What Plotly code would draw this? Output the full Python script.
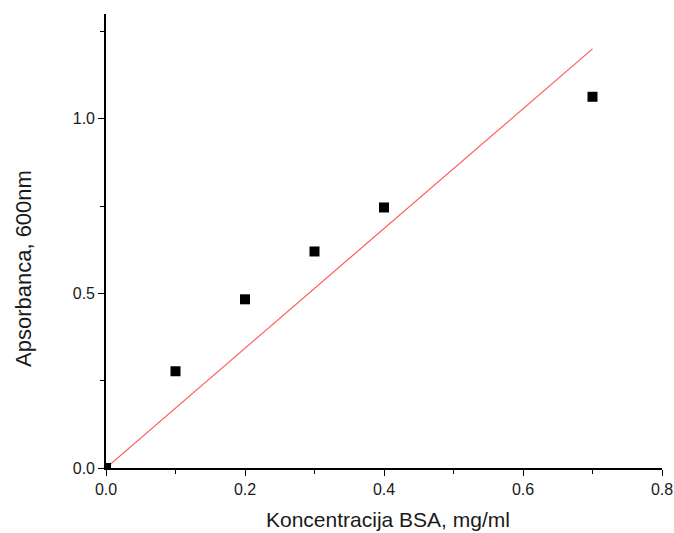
import plotly.graph_objects as go

# Data
conc_bsa = [0.0, 0.1, 0.2, 0.3, 0.4, 0.7]          # mg/ml
absorbance = [0.0, 0.277, 0.483, 0.620, 0.746, 1.063]  # A600
fit_x = [0.0, 0.7]
fit_y = [0.0, 1.2]

x_ticks = [0.0, 0.2, 0.4, 0.6, 0.8]
y_ticks = [0.0, 0.5, 1.0]

x_title = "Koncentracija BSA, mg/ml"
y_title = "Apsorbanca, 600nm"

FONT = "Liberation Sans, Arial, sans-serif"

fig = go.Figure()
fig.add_trace(go.Scatter(
    x=fit_x, y=fit_y, mode="lines",
    line=dict(color="#ff5a5a", width=1.2),
    showlegend=False, hoverinfo="skip",
))
fig.add_trace(go.Scatter(
    x=conc_bsa, y=absorbance, mode="markers",
    marker=dict(symbol="square", size=10, color="black"),
    showlegend=False, cliponaxis=True,
))

axis_common = dict(
    showline=True, linecolor="black", linewidth=1.6,
    ticks="outside", ticklen=6, tickwidth=1.4, tickcolor="black",
    showgrid=False, zeroline=False, automargin=False,
    tickfont=dict(family=FONT, size=16, color="#1a1a1a"),
    tickformat=".1f",
)

fig.update_xaxes(
    range=[0, 0.8], tickvals=x_ticks,
    minor=dict(dtick=0.1, ticks="outside", ticklen=4, tickwidth=1.2, tickcolor="black"),
    **axis_common,
)
fig.update_yaxes(
    range=[0, 1.3], tickvals=y_ticks,
    minor=dict(dtick=0.25, ticks="outside", ticklen=4, tickwidth=1.2, tickcolor="black"),
    **axis_common,
)

fig.add_annotation(
    text=x_title, xref="paper", yref="paper", x=0.508, y=-0.1145,
    xanchor="center", yanchor="middle", showarrow=False,
    font=dict(family=FONT, size=21, color="#1a1a1a"),
)
fig.add_annotation(
    text=y_title, xref="paper", yref="paper", x=-0.1493, y=0.4405,
    xanchor="center", yanchor="middle", showarrow=False, textangle=-90,
    font=dict(family=FONT, size=22, color="#1a1a1a"),
)

fig.update_layout(
    width=674, height=533,
    margin=dict(l=106, r=12, t=14, b=65),
    paper_bgcolor="white", plot_bgcolor="white",
)

fig.write_html("out.html")
